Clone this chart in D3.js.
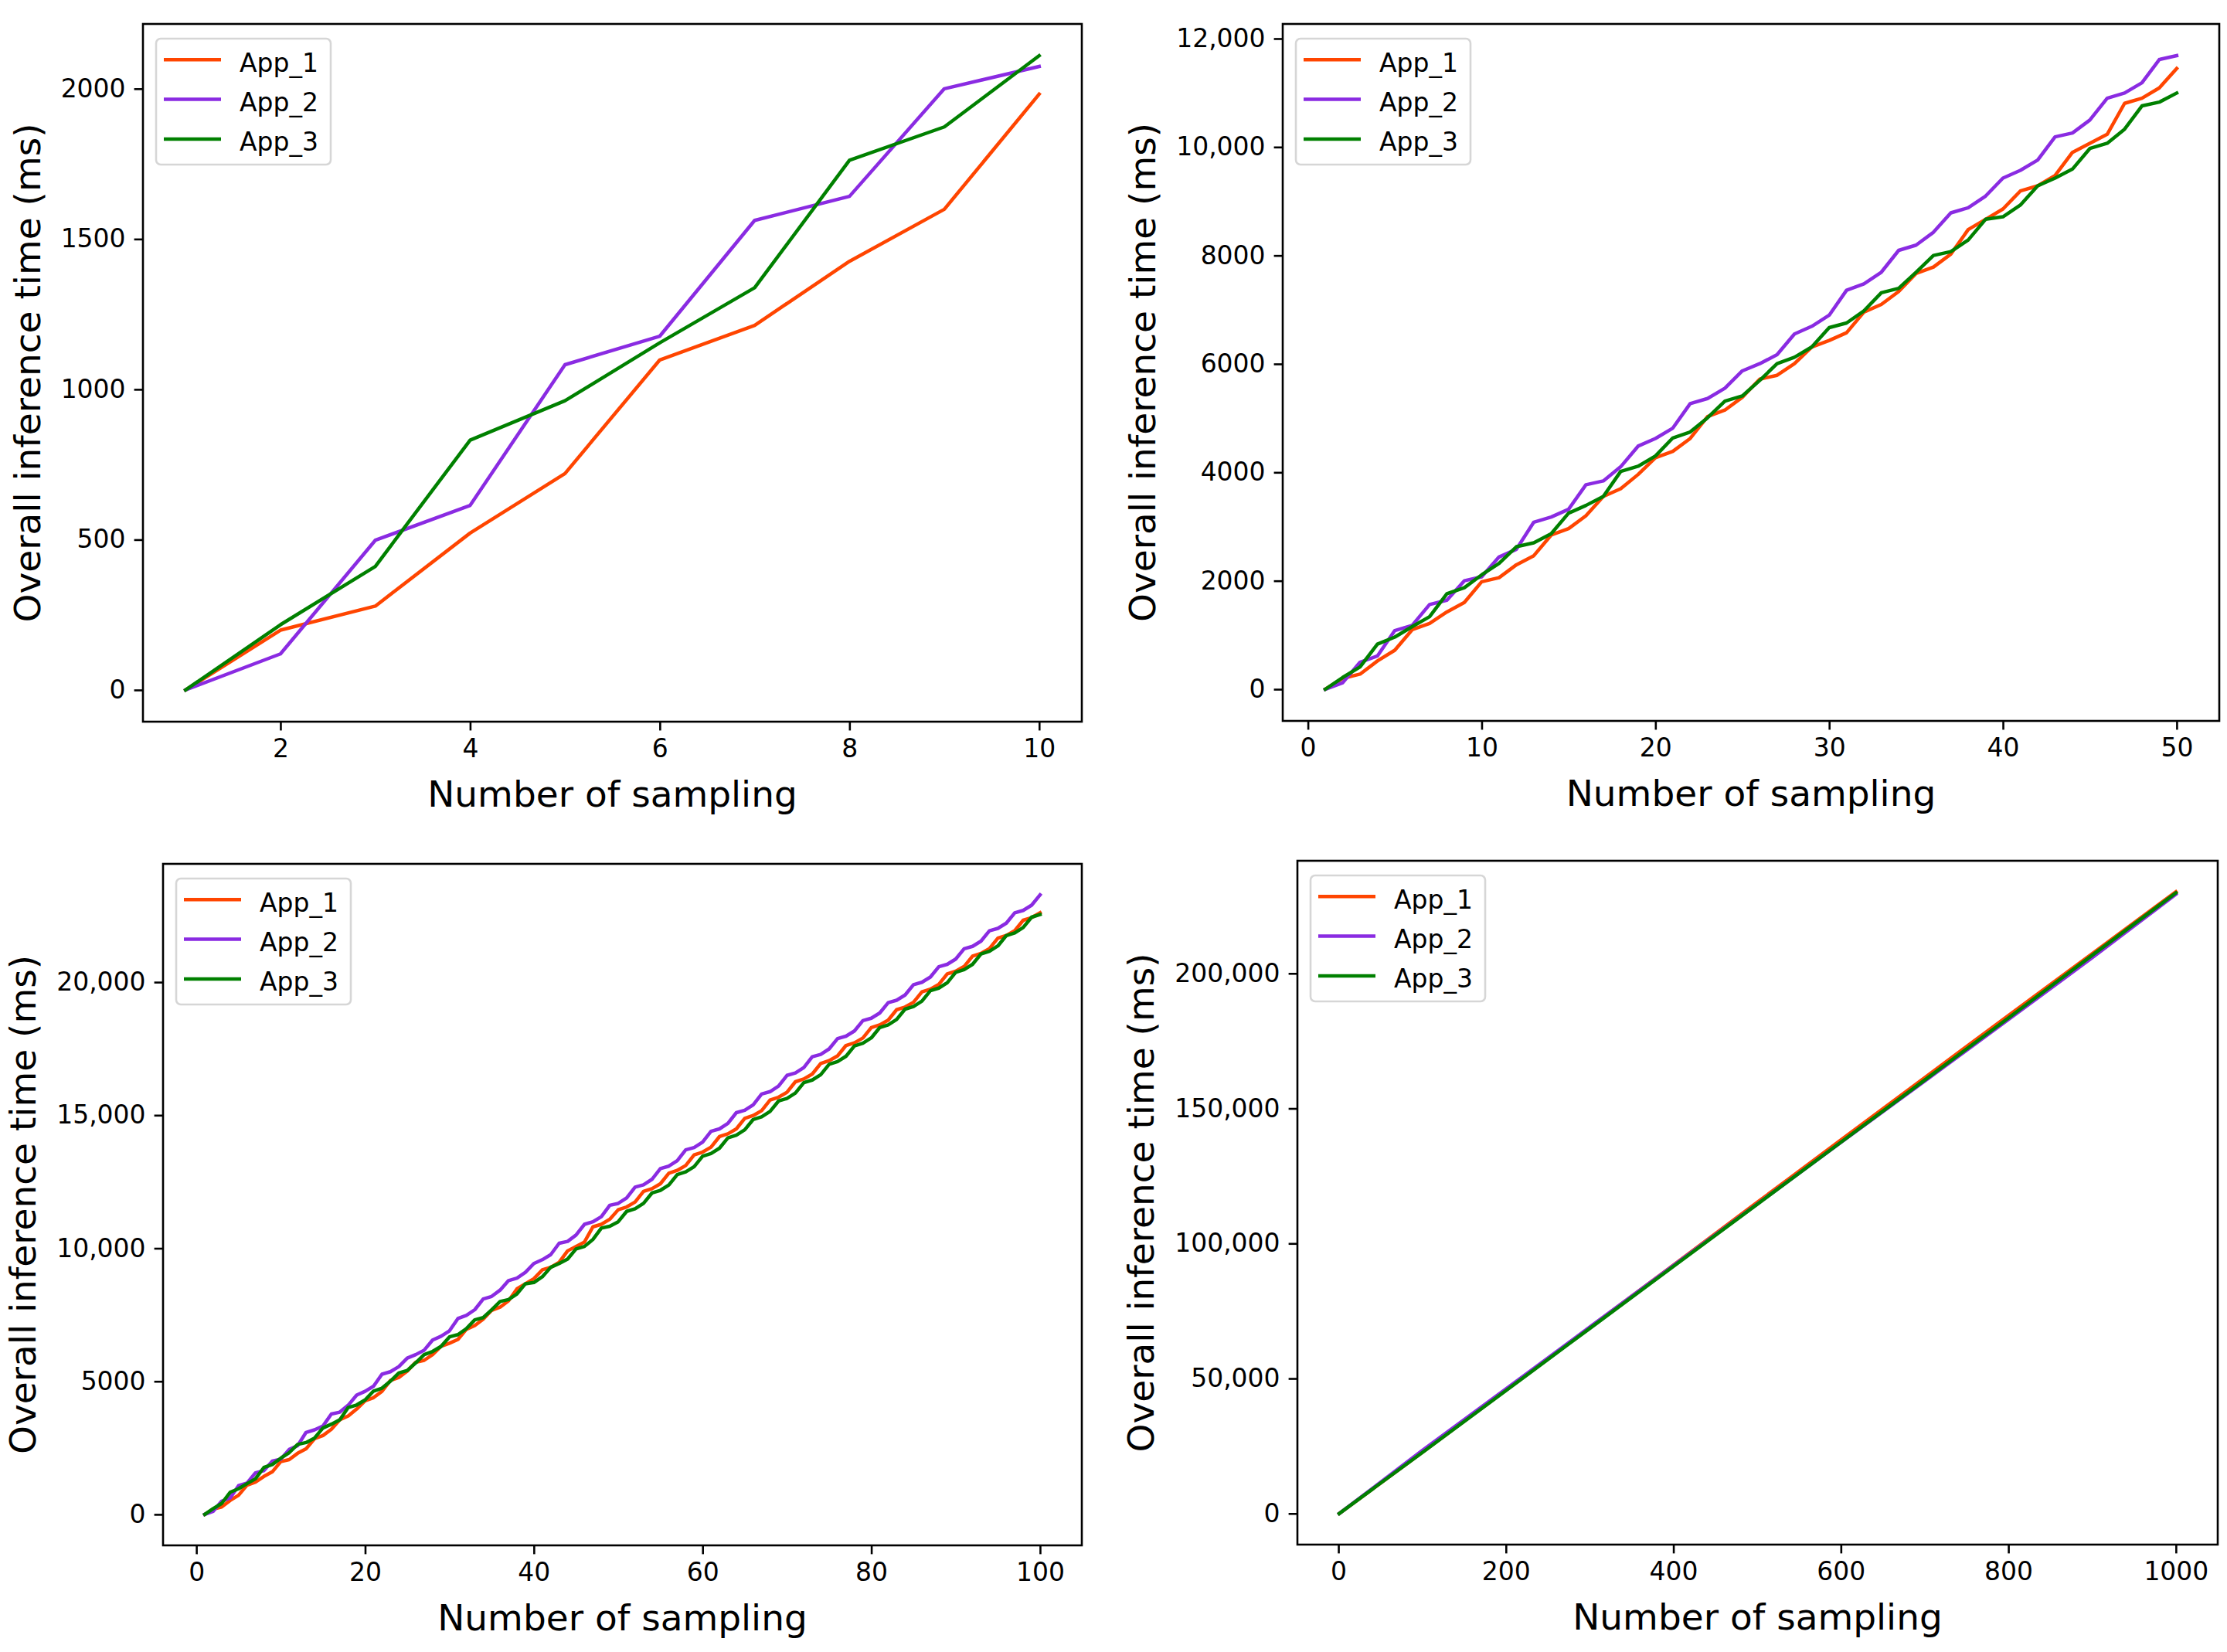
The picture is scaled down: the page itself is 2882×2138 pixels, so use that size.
<!DOCTYPE html>
<html>
<head>
<meta charset="utf-8">
<script src="https://cdn.jsdelivr.net/npm/d3@7"></script>
<style>
  body { margin: 0; background: #fff; }
  text { font-family: "DejaVu Sans", sans-serif; fill: #000; }
</style>
</head>
<body>
<div id="chart"></div>
<script>
// series names in legend order
const appNames = ["App_1", "App_2", "App_3"];

// overall inference time (ms) per number of sampling, samples 1..100
const app1Times = [0, 199, 279, 522, 720, 1098, 1213, 1426, 1599, 1982,
  2058, 2296, 2463, 2844, 2962, 3200, 3556, 3698, 3960, 4269,
  4388, 4625, 5030, 5149, 5386, 5719, 5790, 6004, 6313, 6432,
  6575, 6956, 7097, 7335, 7668, 7787, 8025, 8477, 8667, 8857,
  9189, 9285, 9474, 9902, 10069, 10235, 10806, 10900, 11091, 11448,
  11553, 11738, 12135, 12240, 12425, 12822, 12927, 13112, 13509, 13614,
  13799, 14196, 14301, 14486, 14883, 14988, 15173, 15570, 15675, 15860,
  16257, 16362, 16547, 16944, 17049, 17229, 17621, 17721, 17901, 18293,
  18393, 18573, 18965, 19065, 19245, 19637, 19737, 19917, 20309, 20409,
  20589, 20981, 21081, 21261, 21653, 21753, 21933, 22325, 22425, 22605];

const app2Times = [0, 120, 498, 614, 1082, 1177, 1562, 1642, 2000, 2074,
  2439, 2582, 3081, 3176, 3319, 3771, 3842, 4103, 4483, 4625,
  4816, 5268, 5362, 5552, 5872, 6004, 6170, 6551, 6694, 6898,
  7359, 7478, 7692, 8095, 8191, 8428, 8786, 8880, 9095, 9427,
  9570, 9760, 10188, 10259, 10497, 10900, 10996, 11186, 11614, 11686,
  11891, 12296, 12386, 12591, 12996, 13086, 13291, 13696, 13786, 13991,
  14396, 14486, 14691, 15096, 15186, 15391, 15796, 15886, 16091, 16496,
  16586, 16791, 17196, 17286, 17491, 17881, 17971, 18166, 18556, 18646,
  18841, 19231, 19321, 19516, 19906, 19996, 20191, 20581, 20671, 20866,
  21256, 21346, 21541, 21931, 22021, 22216, 22606, 22696, 22891, 23281];

const app3Times = [0, 217, 411, 831, 962, 1155, 1338, 1762, 1873, 2110,
  2320, 2629, 2701, 2867, 3247, 3390, 3556, 4017, 4112, 4302,
  4635, 4744, 5006, 5315, 5409, 5695, 6004, 6123, 6313, 6670,
  6755, 6979, 7312, 7395, 7691, 8000, 8072, 8286, 8667, 8714,
  8929, 9285, 9427, 9593, 9973, 10069, 10330, 10759, 10829, 10996,
  11386, 11486, 11687, 12077, 12177, 12378, 12768, 12868, 13069, 13459,
  13559, 13760, 14150, 14250, 14451, 14841, 14941, 15142, 15532, 15632,
  15833, 16223, 16323, 16524, 16914, 17014, 17215, 17605, 17705, 17906,
  18296, 18396, 18597, 18987, 19087, 19288, 19678, 19778, 19979, 20369,
  20469, 20670, 21060, 21160, 21361, 21751, 21851, 22052, 22442, 22542];

// the 1000-sample run
const longSamples = [1, 100, 200, 300, 400, 500, 600, 700, 800, 900, 1000];
const app1Long = [0, 22605, 45700, 68900, 92000, 115200, 138300, 161400, 184400, 207300, 230200];
const app2Long = [0, 23281, 46100, 69000, 91800, 114600, 137400, 160100, 182900, 205800, 229300];
const app3Long = [0, 22542, 45500, 68500, 91500, 114500, 137500, 160500, 183500, 206700, 229800];

// tick labels
const xTicks10 = [2, 4, 6, 8, 10];
const yTicks10 = [0, 500, 1000, 1500, 2000];
const xTicks50 = [0, 10, 20, 30, 40, 50];
const yTicks50 = [0, 2000, 4000, 6000, 8000, 10000, 12000];
const xTicks100 = [0, 20, 40, 60, 80, 100];
const yTicks100 = [0, 5000, 10000, 15000, 20000];
const xTicks1000 = [0, 200, 400, 600, 800, 1000];
const yTicks1000 = [0, 50000, 100000, 150000, 200000];

const colors = ["#ff4500", "#8a2be2", "#008000"];

function firstN(arr, n) {
  return arr.slice(0, n).map(function(v, i) { return { x: i + 1, y: v }; });
}
function paired(xs, ys) {
  return ys.map(function(v, i) { return { x: xs[i], y: v }; });
}

const panels = [
  { box: { l: 185, r: 1400, t: 31, b: 934 }, xTicks: xTicks10, yTicks: yTicks10,
    series: [firstN(app1Times, 10), firstN(app2Times, 10), firstN(app3Times, 10)] },
  { box: { l: 1660, r: 2872, t: 31, b: 933 }, xTicks: xTicks50, yTicks: yTicks50,
    series: [firstN(app1Times, 50), firstN(app2Times, 50), firstN(app3Times, 50)] },
  { box: { l: 211, r: 1400, t: 1118, b: 2000 }, xTicks: xTicks100, yTicks: yTicks100,
    series: [firstN(app1Times, 100), firstN(app2Times, 100), firstN(app3Times, 100)] },
  { box: { l: 1679, r: 2870, t: 1114, b: 1999 }, xTicks: xTicks1000, yTicks: yTicks1000,
    series: [paired(longSamples, app1Long), paired(longSamples, app2Long), paired(longSamples, app3Long)] }
];

const svg = d3.select("#chart").append("svg")
  .attr("width", 2882)
  .attr("height", 2138);

svg.append("rect").attr("width", 2882).attr("height", 2138).attr("fill", "#fff");

// big numbers get thousands separators, small ones don't
function tickFmt(v) {
  return v >= 10000 ? d3.format(",")(v) : String(v);
}

// matplotlib style 5% margins
function padded(ext) {
  var d = (ext[1] - ext[0]) * 0.05;
  return [ext[0] - d, ext[1] + d];
}

panels.forEach(function(p, pi) {
  var box = p.box;
  var all = [].concat.apply([], p.series);
  var x = d3.scaleLinear().domain(padded(d3.extent(all, function(d) { return d.x; }))).range([box.l, box.r]);
  var y = d3.scaleLinear().domain(padded(d3.extent(all, function(d) { return d.y; }))).range([box.b, box.t]);

  var g = svg.append("g");

  g.append("clipPath").attr("id", "clip" + pi)
    .append("rect").attr("x", box.l).attr("y", box.t)
    .attr("width", box.r - box.l).attr("height", box.b - box.t);

  var line = d3.line().x(function(d) { return x(d.x); }).y(function(d) { return y(d.y); });

  g.append("g").attr("clip-path", "url(#clip" + pi + ")")
    .selectAll("path")
    .data(p.series)
    .enter()
    .append("path")
    .attr("d", line)
    .attr("fill", "none")
    .attr("stroke", function(d, i) { return colors[i]; })
    .attr("stroke-width", 4.5)
    .attr("stroke-linejoin", "round")
    .attr("stroke-linecap", "square");

  var xAxis = g.append("g")
    .attr("transform", "translate(0," + box.b + ")")
    .call(d3.axisBottom(x).tickValues(p.xTicks).tickFormat(tickFmt).tickSize(11.4).tickPadding(11).tickSizeOuter(0));
  var yAxis = g.append("g")
    .attr("transform", "translate(" + box.l + ",0)")
    .call(d3.axisLeft(y).tickValues(p.yTicks).tickFormat(tickFmt).tickSize(11.4).tickPadding(11).tickSizeOuter(0));

  [xAxis, yAxis].forEach(function(ax) {
    ax.select(".domain").remove();
    ax.selectAll(".tick line").attr("stroke", "#000").attr("stroke-width", 2.6);
    ax.selectAll(".tick text").attr("font-size", 33).attr("font-family", "DejaVu Sans").attr("fill", "#000");
  });

  // frame
  g.append("rect")
    .attr("x", box.l).attr("y", box.t)
    .attr("width", box.r - box.l).attr("height", box.b - box.t)
    .attr("fill", "none").attr("stroke", "#000").attr("stroke-width", 2.6);

  // axis titles
  g.append("text")
    .attr("x", (box.l + box.r) / 2)
    .attr("y", box.b + 110)
    .attr("text-anchor", "middle")
    .attr("font-size", 47)
    .text("Number of sampling");

  var minX = d3.min(yAxis.selectAll(".tick text").nodes(), function(n) {
    var bb = n.getBBox();
    return bb.x + box.l;
  });
  var cy = (box.t + box.b) / 2;
  g.append("text")
    .attr("transform", "translate(" + (minX - 27) + "," + cy + ") rotate(-90)")
    .attr("text-anchor", "middle")
    .attr("font-size", 47)
    .text("Overall inference time (ms)");

  // legend
  var lg = g.append("g").attr("transform", "translate(" + (box.l + 17) + "," + (box.t + 19) + ")");
  lg.append("rect")
    .attr("width", 226).attr("height", 163).attr("rx", 6)
    .attr("fill", "#fff").attr("fill-opacity", 0.8)
    .attr("stroke", "#d6d6d6").attr("stroke-width", 2.6);
  appNames.forEach(function(name, i) {
    var ly = 27.3 + i * 51.3;
    lg.append("line")
      .attr("x1", 10).attr("x2", 84).attr("y1", ly).attr("y2", ly)
      .attr("stroke", colors[i]).attr("stroke-width", 4.5);
    lg.append("text")
      .attr("x", 108).attr("y", ly + 15.4)
      .attr("font-size", 33)
      .text(name);
  });
});
</script>
</body>
</html>
